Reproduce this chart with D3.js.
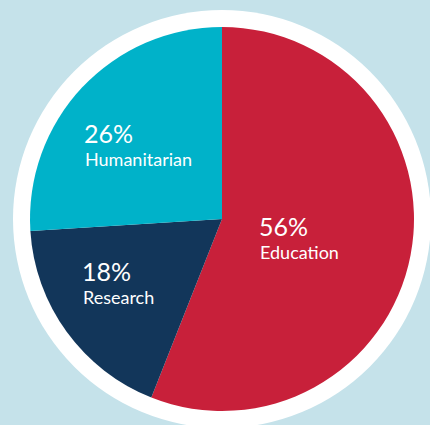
<!DOCTYPE html>
<html><head><meta charset="utf-8">
<script src="https://cdn.jsdelivr.net/npm/d3@7/dist/d3.min.js"></script>
<style>
html,body{margin:0;padding:0;background:#c5e2ea;}
svg{display:block;}
</style></head>
<body>
<svg id="chart" width="430" height="425"></svg>
<script>
const categories = ["Education", "Research", "Humanitarian"];
const values = [56, 18, 26];
const colors = ["#c8203a", "#12365a", "#00b2c9"];

const W = 430, H = 425;
const cx = 222, cy = 219, R = 192, ringR = 209;
const labelPos = {
  "Education": [259, 236],
  "Research": [82, 281],
  "Humanitarian": [84, 143]
};

const svg = d3.select("#chart");
svg.append("rect").attr("width", W).attr("height", H).attr("fill", "#c5e2ea");
const g = svg.append("g").attr("transform", `translate(${cx},${cy})`);
g.append("circle").attr("r", ringR).attr("fill", "#ffffff");

const data = categories.map((c, i) => ({cat: c, value: values[i], color: colors[i]}));
const pie = d3.pie().value(d => d.value).sort(null);
const arc = d3.arc().innerRadius(0).outerRadius(R);

g.selectAll("path").data(pie(data)).join("path")
  .attr("d", arc).attr("fill", d => d.data.color);

const lab = svg.append("g").attr("font-family", "Lato, 'Open Sans', sans-serif").attr("fill", "#ffffff");
data.forEach(d => {
  const [x, y] = labelPos[d.cat];
  lab.append("text").attr("x", x).attr("y", y).attr("font-size", 25).attr("font-weight", 400)
    .text(d.value + "%");
  lab.append("text").attr("x", x + 1).attr("y", y + 23).attr("font-size", 18).attr("font-weight", 400)
    .text(d.cat);
});
</script>
</body></html>
